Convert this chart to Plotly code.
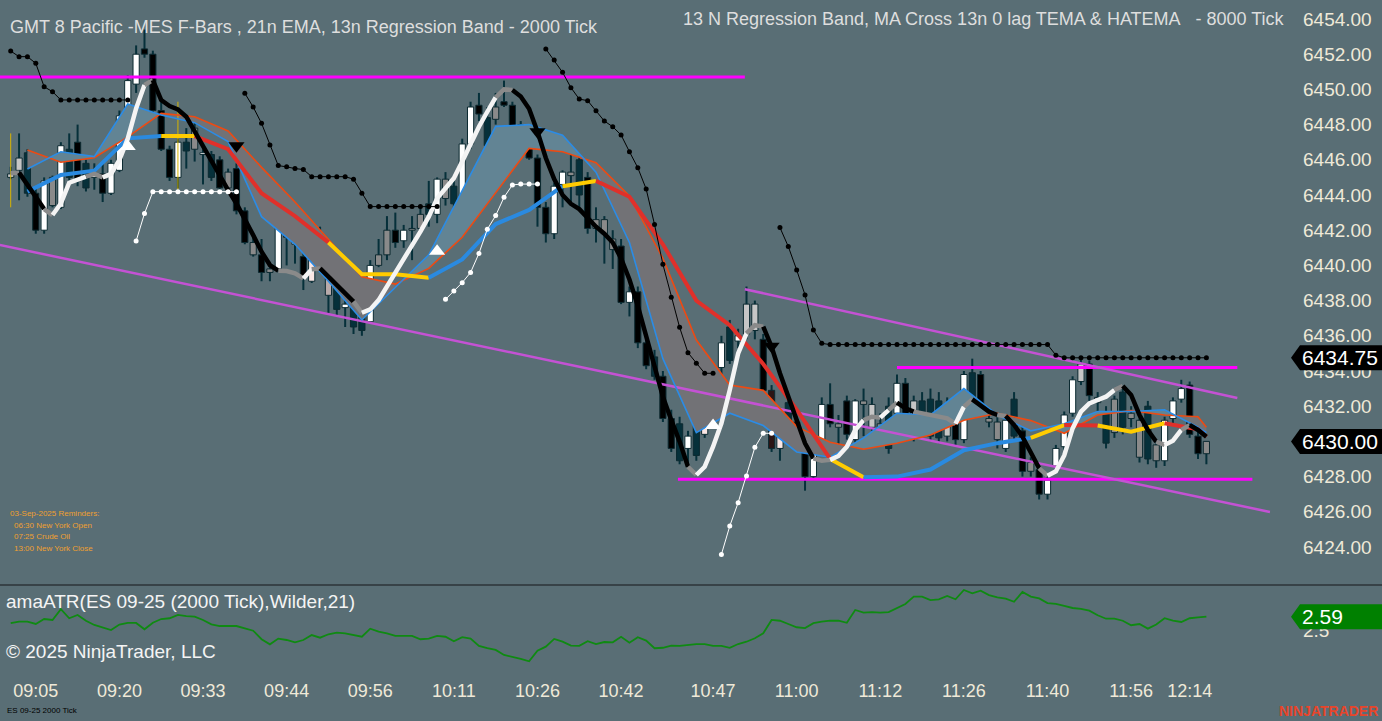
import plotly.graph_objects as go

# ---- 2000 tick bars (ES 09-25, 03-Sep-2025) ----
bar_open = [
    6445.2, 6446.1, 6446.4, 6444.1, 6442.0, 6445.0, 6443.3, 6446.6, 6447.0, 6445.8,
    6445.0, 6445.2, 6444.1, 6445.4, 6448.6, 6450.3, 6452.3, 6452.0, 6448.8, 6446.6,
    6445.0, 6447.0, 6447.8, 6446.3, 6446.3, 6446.0, 6445.3, 6445.5, 6443.1, 6441.3,
    6440.6, 6439.8, 6439.8, 6442.3, 6441.2, 6440.5, 6439.1, 6441.8, 6440.3, 6439.5,
    6437.6, 6438.4, 6437.6, 6436.8, 6440.0, 6440.6, 6442.0, 6441.4, 6442.0, 6442.1,
    6443.5, 6442.9, 6444.9, 6444.5, 6443.9, 6446.9, 6449.1, 6448.4, 6448.3, 6449.3,
    6449.1, 6447.8, 6447.6, 6446.1, 6443.3, 6441.8, 6444.6, 6445.3, 6446.0, 6445.0,
    6442.6, 6442.6, 6441.5, 6441.1, 6437.9, 6438.5, 6435.6, 6434.8, 6433.7, 6431.3,
    6431.0, 6429.6, 6431.0, 6430.4, 6432.8, 6434.2, 6436.5, 6435.7, 6436.1, 6437.8,
    6435.8, 6432.9, 6429.6, 6432.2, 6431.1, 6430.4, 6428.0, 6430.1, 6432.1, 6431.0,
    6432.3, 6430.1, 6432.3, 6432.1, 6431.0, 6432.0, 6431.6, 6433.3, 6430.3, 6432.3,
    6432.4, 6432.3, 6430.3, 6432.1, 6430.1, 6433.9, 6433.8, 6431.3, 6431.1, 6429.6,
    6432.4, 6430.6, 6428.8, 6428.4, 6427.0, 6428.6, 6429.7, 6431.6, 6433.4, 6434.4,
    6432.5, 6431.7, 6430.5, 6432.8, 6431.6, 6431.2, 6432.0, 6429.8, 6428.9, 6431.3,
    6432.4, 6433.2, 6430.3, 6429.3]
bar_high = [
    6445.6, 6447.5, 6446.6, 6444.5, 6445.0, 6445.1, 6447.0, 6447.5, 6448.0, 6446.0,
    6445.8, 6445.8, 6446.0, 6448.8, 6450.8, 6452.5, 6453.4, 6452.2, 6449.5, 6446.8,
    6447.2, 6447.8, 6448.1, 6446.6, 6446.5, 6446.2, 6445.5, 6445.8, 6443.3, 6441.8,
    6441.5, 6440.2, 6443.2, 6442.5, 6442.3, 6441.1, 6442.0, 6442.2, 6440.5, 6440.1,
    6438.5, 6438.8, 6438.2, 6440.3, 6441.5, 6442.8, 6443.0, 6442.3, 6442.8, 6443.4,
    6444.8, 6445.0, 6445.3, 6445.1, 6447.2, 6449.3, 6449.8, 6449.0, 6449.8, 6450.5,
    6449.3, 6448.2, 6448.0, 6446.3, 6443.6, 6444.7, 6445.4, 6446.3, 6446.3, 6445.3,
    6443.3, 6442.8, 6442.0, 6441.5, 6438.8, 6438.8, 6436.0, 6435.2, 6434.0, 6431.8,
    6431.4, 6430.6, 6431.3, 6432.9, 6434.3, 6436.0, 6436.9, 6436.4, 6438.8, 6438.0,
    6436.1, 6433.2, 6431.5, 6432.6, 6431.4, 6430.6, 6430.3, 6432.5, 6433.3, 6431.5,
    6432.6, 6432.4, 6433.0, 6432.5, 6431.6, 6432.5, 6433.8, 6433.6, 6432.6, 6432.8,
    6433.0, 6432.8, 6432.5, 6432.4, 6434.0, 6434.7, 6434.0, 6431.6, 6431.4, 6431.5,
    6432.8, 6430.9, 6429.1, 6428.7, 6428.0, 6429.8, 6431.7, 6433.7, 6434.7, 6434.6,
    6432.8, 6432.0, 6432.6, 6433.1, 6432.0, 6431.5, 6432.3, 6430.1, 6431.4, 6432.5,
    6433.5, 6433.4, 6431.4, 6430.0]
bar_low = [
    6444.9, 6443.7, 6443.9, 6441.8, 6441.8, 6443.3, 6443.2, 6444.8, 6444.5, 6444.2,
    6444.3, 6443.6, 6444.0, 6445.3, 6448.4, 6449.8, 6451.8, 6448.6, 6446.5, 6444.8,
    6444.4, 6445.5, 6445.9, 6444.6, 6444.8, 6444.2, 6444.2, 6442.9, 6441.2, 6440.5,
    6439.1, 6439.1, 6439.6, 6440.0, 6440.1, 6438.6, 6439.0, 6440.0, 6437.3, 6437.1,
    6436.5, 6436.1, 6436.0, 6436.8, 6439.9, 6440.3, 6441.0, 6441.0, 6440.3, 6441.8,
    6442.2, 6442.4, 6443.4, 6442.7, 6443.9, 6446.6, 6448.2, 6446.6, 6448.0, 6449.0,
    6447.4, 6446.8, 6446.0, 6442.2, 6441.3, 6441.5, 6443.3, 6443.4, 6443.3, 6441.8,
    6441.3, 6440.1, 6439.8, 6437.8, 6437.1, 6435.3, 6434.1, 6433.5, 6431.1, 6429.4,
    6428.7, 6428.5, 6428.9, 6430.2, 6432.1, 6433.8, 6434.4, 6435.3, 6435.8, 6435.8,
    6432.7, 6429.4, 6428.9, 6430.3, 6430.2, 6427.2, 6427.8, 6430.0, 6430.8, 6429.5,
    6430.1, 6429.9, 6430.3, 6430.6, 6429.8, 6429.3, 6431.4, 6431.0, 6430.0, 6430.5,
    6430.0, 6429.9, 6430.0, 6429.8, 6429.9, 6431.8, 6431.6, 6430.8, 6429.6, 6429.4,
    6430.0, 6428.0, 6428.0, 6426.7, 6426.7, 6428.4, 6429.5, 6431.4, 6433.2, 6432.3,
    6431.6, 6429.6, 6430.2, 6430.4, 6430.8, 6428.8, 6428.7, 6428.5, 6428.6, 6431.0,
    6432.2, 6430.2, 6429.0, 6428.7]
bar_close = [
    6445.0, 6445.4, 6444.1, 6442.0, 6444.8, 6443.4, 6446.8, 6445.0, 6444.8, 6444.4,
    6445.2, 6444.1, 6445.8, 6448.5, 6450.5, 6452.0, 6452.0, 6448.8, 6446.6, 6445.0,
    6447.0, 6446.5, 6446.6, 6446.4, 6445.0, 6444.4, 6444.4, 6443.1, 6441.3, 6440.6,
    6439.6, 6439.6, 6442.9, 6441.6, 6441.8, 6439.4, 6441.8, 6440.3, 6438.3, 6437.5,
    6437.8, 6436.5, 6436.3, 6440.0, 6440.6, 6442.0, 6441.3, 6442.0, 6442.1, 6442.9,
    6442.9, 6444.9, 6443.8, 6443.5, 6446.9, 6449.0, 6448.6, 6446.8, 6449.0, 6449.1,
    6447.8, 6448.0, 6446.1, 6443.3, 6441.8, 6444.5, 6445.3, 6445.1, 6444.0, 6442.1,
    6442.1, 6441.8, 6440.9, 6437.9, 6438.5, 6435.6, 6434.3, 6433.7, 6431.3, 6429.6,
    6428.9, 6430.3, 6429.2, 6432.7, 6434.1, 6435.6, 6434.6, 6436.0, 6437.8, 6436.3,
    6432.9, 6429.6, 6431.3, 6430.6, 6430.4, 6428.0, 6430.1, 6432.1, 6431.0, 6430.8,
    6430.4, 6432.3, 6432.1, 6430.8, 6430.1, 6429.6, 6433.3, 6431.3, 6432.3, 6430.8,
    6430.3, 6430.2, 6432.1, 6430.1, 6433.8, 6432.0, 6431.9, 6431.1, 6430.1, 6431.2,
    6430.3, 6428.3, 6428.3, 6427.0, 6427.8, 6429.6, 6431.5, 6433.5, 6434.4, 6432.6,
    6432.2, 6429.9, 6432.4, 6430.8, 6431.3, 6429.1, 6429.0, 6428.9, 6431.2, 6432.3,
    6433.0, 6430.4, 6429.3, 6430.0]
# F-Bars body shade: w white, b black, g gray, l light gray, p pink, r dark red, m rose gray, t teal
bar_shade = (
    "l l t b w g w t b t  w b w w w w b b b b  w t g w t b g b b g  b g w r p b p r m t "
    "w t t w g g b w g g  t w g t w w b t g b  b w b b b w w g t b  g g g b w b b t b b "
    "t w t p p w t w l l  b r p t r b w w b g  b w g l g t w b l t  t t l b w t b g g w "
    "t b g b w w w w l b  g t g t g g t g w w  w b b g").split()

# 0 lag TEMA / HATEMA (per 2000 tick bar)
tema = [
    6445.23, 6445.27, 6444.56, 6443.9, 6443.2, 6442.86, 6443.52, 6444.7, 6444.85, 6445.04,
    6445.2, 6445.0, 6445.2, 6445.99, 6447.2, 6448.92, 6450.25, 6450.53, 6449.39, 6449.05,
    6448.86, 6448.45, 6447.6, 6446.74, 6445.89, 6445.04, 6444.28, 6443.52, 6442.67, 6441.72,
    6440.78, 6440.02, 6439.7, 6439.68, 6439.55, 6439.26, 6439.78, 6439.83, 6439.36, 6438.94,
    6438.5, 6437.94, 6437.31, 6437.5, 6438.03, 6438.79, 6439.55, 6440.31, 6441.06, 6441.92,
    6442.77, 6443.81, 6444.38, 6444.95, 6445.9, 6446.94, 6447.88, 6448.73, 6449.55, 6450.0,
    6449.97, 6449.6, 6448.9, 6447.6, 6446.1, 6444.9, 6444.0, 6443.5, 6443.2, 6442.7,
    6442.2, 6441.8, 6441.3, 6440.4, 6439.2, 6437.7, 6436.0, 6434.2, 6432.54, 6431.22,
    6429.99, 6428.56, 6428.09, 6428.56, 6429.7, 6431.03, 6432.92, 6435.0, 6436.14, 6436.6,
    6436.52, 6435.38, 6433.87, 6432.54, 6431.3, 6429.89, 6429.04, 6428.9, 6428.95, 6429.17,
    6429.7, 6430.65, 6431.21, 6431.4, 6431.35, 6431.78, 6432.2, 6431.88, 6431.69, 6431.59,
    6431.5, 6431.4, 6431.31, 6431.0, 6431.97, 6432.39, 6432.07, 6431.69, 6431.5, 6431.44,
    6430.93, 6430.27, 6429.41, 6428.47, 6428.05, 6428.3, 6429.2, 6430.74, 6431.69, 6432.16,
    6432.35, 6432.54, 6432.92, 6433.15, 6432.64, 6431.5, 6430.65, 6429.98, 6429.8, 6430.04,
    6430.65, 6430.93, 6430.65, 6430.27]

# trailing stop dots
stop_above = ([6452.18, 6451.86, 6451.86, 6451.48, 6450.15, 6449.87] + [6449.4] * 9 + [None] * 13
              + [6449.78, 6449.0, 6448.07, 6446.84, 6445.67, 6445.6, 6445.5, 6445.45]
              + [6445.04] * 5 + [6444.9, 6444.1] + [6443.34] * 9 + [None] * 12
              + [6452.3, 6451.67, 6450.97, 6450.1, 6449.45, 6449.36, 6448.79, 6448.2, 6447.88,
                 6447.41, 6446.46, 6445.55, 6444.34, 6442.33, 6440.06, 6438.19, 6436.48,
                 6435.04, 6434.44, 6433.87, 6433.87] + [None] * 7
              + [6442.15, 6441.07, 6439.74, 6438.32, 6436.33, 6435.57] + [6435.5] * 27
              + [6434.9] + [6434.75] * 18)
stop_below = ([None] * 15 + [6441.38, 6442.95] + [6444.19] * 11 + [None] * 24
              + [6438.07, 6438.54, 6439.02, 6439.6, 6440.68, 6442.05, 6442.83, 6443.87,
                 6444.57, 6444.62, 6444.62, 6444.62] + [None] * 21
              + [6423.58, 6425.19, 6426.52, 6428.03, 6429.66, 6430.46, 6430.46] + [None] * 52)

# 8000 tick series: regression band (blue / red) and 21n EMA
slow_bars = [2, 6, 10, 14, 18, 22, 26, 30, 34, 38, 42, 46, 50, 54, 58, 62, 66, 70, 74,
             78, 82, 86, 90, 94, 98, 102, 106, 110, 114, 118, 122, 126, 130, 134, 138, 142, 143]
band_blue = [6445.48, 6446.46, 6446.18, 6449.17, 6448.55, 6448.11, 6447.03, 6442.77, 6441.2,
             6439.1, 6436.9, 6438.75, 6440.6, 6444.25, 6447.9, 6448.0, 6447.4, 6445.3, 6441.3,
             6434.7, 6430.5, 6431.6, 6430.9, 6429.4, 6429.1, 6430.2, 6431.6, 6431.5, 6433.0,
             6431.5, 6430.6, 6431.0, 6431.7, 6431.7, 6431.8, 6430.8, 6430.5]
band_red = [6446.56, 6445.86, 6446.12, 6447.3, 6448.64, 6448.45, 6447.64, 6445.57, 6443.6,
            6441.45, 6439.36, 6438.94, 6439.83, 6441.6, 6444.1, 6446.65, 6446.46, 6445.84,
            6443.95, 6440.4, 6435.76, 6433.2, 6432.9, 6430.84, 6429.95, 6429.55, 6429.89,
            6430.36, 6431.2, 6431.6, 6431.18, 6430.46, 6431.5, 6431.75, 6431.5, 6431.4, 6430.8]
ema21 = [6444.19, 6445.14, 6445.38, 6447.22, 6447.35, 6447.35, 6446.6, 6444.1, 6442.8,
         6441.3, 6439.5, 6439.5, 6439.3, 6440.34, 6442.35, 6443.15, 6444.5, 6444.8, 6443.9,
         6441.2, 6438.0, 6436.6, 6434.4, 6431.8, 6429.0, 6427.96, 6428.0, 6428.4, 6429.5,
         6429.9, 6430.2, 6430.93, 6430.9, 6430.55, 6431.03, 6430.69, 6430.27]
ema21_state = "b b b b y r r r r y y y b b b b y r r r r r r r y b b b b b y r y y r r".split()

# MA cross markers
cross_up_bars = [14, 51, 84]
cross_up_price = [6446.75, 6440.8, 6430.9]
cross_dn_bars = [27, 63, 91]
cross_dn_price = [6446.8, 6447.6, 6435.4]

# drawn levels
level_price = [6450.7, 6434.2, 6427.85]
level_from = [-1.3, 106, 79.8]
level_to = [87.8, 146.7, 148.5]
channel_from = [(-1.3, 6441.16), (87.8, 6438.65)]
channel_to = [(150.6, 6425.99), (146.7, 6432.47)]
flag_bars = [0, 20]
flag_hi = [6447.5, 6449.3]
flag_lo = [6443.3, 6444.3]

# amaATR (Wilder, 21)
atr = [
    2.548, 2.558, 2.558, 2.543, 2.575, 2.569, 2.638, 2.58, 2.601, 2.564,
    2.537, 2.522, 2.504, 2.539, 2.55, 2.55, 2.509, 2.551, 2.575, 2.58,
    2.601, 2.594, 2.59, 2.569, 2.541, 2.53, 2.53, 2.53, 2.515, 2.5,
    2.445, 2.412, 2.449, 2.44, 2.425, 2.44, 2.472, 2.455, 2.477, 2.487,
    2.483, 2.472, 2.461, 2.513, 2.494, 2.483, 2.466, 2.466, 2.466, 2.445,
    2.449, 2.466, 2.461, 2.432, 2.458, 2.449, 2.402, 2.387, 2.376, 2.344,
    2.333, 2.318, 2.303, 2.371, 2.397, 2.447, 2.429, 2.404, 2.402, 2.432,
    2.414, 2.427, 2.425, 2.461, 2.423, 2.458, 2.436, 2.387, 2.39, 2.404,
    2.402, 2.408, 2.414, 2.414, 2.402, 2.402, 2.389, 2.414, 2.429, 2.451,
    2.483, 2.569, 2.564, 2.543, 2.522, 2.517, 2.548, 2.558, 2.564, 2.564,
    2.551, 2.633, 2.616, 2.62, 2.616, 2.62, 2.644, 2.672, 2.719, 2.719,
    2.697, 2.702, 2.723, 2.702, 2.762, 2.74, 2.757, 2.729, 2.715, 2.706,
    2.686, 2.749, 2.719, 2.708, 2.678, 2.672, 2.659, 2.646, 2.641, 2.629,
    2.599, 2.577, 2.577, 2.564, 2.535, 2.543, 2.513, 2.54, 2.58, 2.564,
    2.556, 2.58, 2.585, 2.59]

time_bars = [3, 13, 23, 33, 43, 53, 63, 73, 84, 94, 104, 114, 124, 134, 141]
time_labels = ['09:05', '09:20', '09:33', '09:44', '09:56', '10:11', '10:26', '10:42',
               '10:47', '11:00', '11:12', '11:26', '11:40', '11:56', '12:14']
price_ticks = [6424.0, 6426.0, 6428.0, 6430.0, 6432.0, 6434.0, 6436.0, 6438.0,
               6440.0, 6442.0, 6444.0, 6446.0, 6448.0, 6450.0, 6452.0, 6454.0]
stop_level = 6434.75
last_price = 6430.00
last_atr = 2.59

BG = '#596e75'
TXT = '#efe9d8'
FONT = 'Arial, Liberation Sans, sans-serif'
SHADES = {'w': '#ffffff', 'b': '#000000', 'g': '#8a8a8a', 'l': '#c6c6c6', 'p': '#fbe7e5',
          'r': '#2b1515', 'm': '#b9aaaa', 't': '#06303a'}
EMA_COL = {'b': '#2a8ae0', 'y': '#ffcc00', 'r': '#e0302a'}
W, H, MR, MB = 1382, 721, 92, 49
PW, PH = W - MR, H - MB
SPLIT = (PH - 585) / PH


def xp(px):
    return px / PW


def yp(py):
    return 1 - py / PH


def add_segments(fig, xs, ys, colors, width):
    start = 0
    for k in range(1, len(colors) + 1):
        if k == len(colors) or colors[k] != colors[start]:
            fig.add_trace(go.Scatter(x=xs[start:k + 1], y=ys[start:k + 1], mode='lines',
                                     line=dict(color=colors[start], width=width)))
            start = k


def band_fills(fig, xs, a, b, up_col, dn_col):
    pts = []
    for k in range(len(xs)):
        pts.append((xs[k], a[k], b[k]))
        if k < len(xs) - 1:
            d0, d1 = a[k] - b[k], a[k + 1] - b[k + 1]
            if d0 * d1 < 0:
                t = d0 / (d0 - d1)
                yc = a[k] + t * (a[k + 1] - a[k])
                pts.append((xs[k] + t * (xs[k + 1] - xs[k]), yc, yc))
    run = [pts[0]]
    sign = None
    for k in range(1, len(pts)):
        s = (pts[k - 1][1] - pts[k - 1][2]) + (pts[k][1] - pts[k][2]) > 0
        if sign is not None and s != sign:
            draw_poly(fig, run, up_col if sign else dn_col)
            run = [pts[k - 1]]
        run.append(pts[k])
        sign = s
    draw_poly(fig, run, up_col if sign else dn_col)


def draw_poly(fig, run, col):
    xs = [p[0] for p in run] + [p[0] for p in reversed(run)]
    ys = [p[1] for p in run] + [p[2] for p in reversed(run)]
    fig.add_trace(go.Scatter(x=xs, y=ys, mode='lines', fill='toself', fillcolor=col,
                             line=dict(width=0)))


bars = list(range(len(bar_open)))
fig = go.Figure()

# regression band fill
band_fills(fig, slow_bars, band_blue, band_red, '#628494', '#727276')

# candles
fig.add_trace(go.Bar(x=bars, base=bar_low, y=[h - l for h, l in zip(bar_high, bar_low)],
                     width=0.24, marker=dict(color='#06303a', line=dict(width=0))))
fig.add_trace(go.Scatter(x=[v for b in flag_bars for v in (b, b, None)],
                         y=[v for h, l in zip(flag_hi, flag_lo) for v in (h, l, None)],
                         mode='lines', line=dict(color='#d8b400', width=1)))
fig.add_trace(go.Bar(x=bars, base=[min(o, c) for o, c in zip(bar_open, bar_close)],
                     y=[max(abs(c - o), 0.08) for o, c in zip(bar_open, bar_close)],
                     width=0.74, marker=dict(color=[SHADES[s] for s in bar_shade],
                                             line=dict(color='#0c2a31', width=1))))

# drawn levels and channel
for p, a, b in zip(level_price, level_from, level_to):
    fig.add_trace(go.Scatter(x=[a, b], y=[p, p], mode='lines', line=dict(color='#ff00ff', width=3)))
for (x0, y0), (x1, y1) in zip(channel_from, channel_to):
    fig.add_trace(go.Scatter(x=[x0, x1], y=[y0, y1], mode='lines', line=dict(color='#c452d4', width=2.5)))

# regression band edges
fig.add_trace(go.Scatter(x=slow_bars, y=band_red, mode='lines', line=dict(color='#ee4a12', width=1.6)))
fig.add_trace(go.Scatter(x=slow_bars, y=band_blue, mode='lines', line=dict(color='#2b8ce6', width=1.6)))

# 21n EMA state line
add_segments(fig, slow_bars, ema21, [EMA_COL[s] for s in ema21_state], 4)

# HATEMA colouring: white rising, black falling, gray at turns / flat
tema_cols = []
for k in range(len(tema) - 1):
    d = tema[k + 1] - tema[k]
    nxt = tema[k + 2] - tema[k + 1] if k + 2 < len(tema) else d
    if abs(d) < 0.15 or d * nxt < 0:
        tema_cols.append('#8a8a8a')
    else:
        tema_cols.append('#f4f4f4' if d > 0 else '#000000')
add_segments(fig, bars, tema, tema_cols, 4.5)

# stop dots
fig.add_trace(go.Scatter(x=bars, y=stop_above, mode='lines+markers', connectgaps=False,
                         line=dict(color='#000000', width=1), marker=dict(color='#000000', size=5)))
fig.add_trace(go.Scatter(x=bars, y=stop_below, mode='lines+markers', connectgaps=False,
                         line=dict(color='#ffffff', width=1), marker=dict(color='#ffffff', size=5)))

# cross markers
fig.add_trace(go.Scatter(x=cross_up_bars, y=cross_up_price, mode='markers',
                         marker=dict(symbol='triangle-up', size=14, color='#ffffff')))
fig.add_trace(go.Scatter(x=cross_dn_bars, y=cross_dn_price, mode='markers',
                         marker=dict(symbol='triangle-down', size=14, color='#000000')))

# ATR panel
fig.add_trace(go.Scatter(x=bars, y=atr, yaxis='y2', mode='lines', line=dict(color='#0f8a12', width=1.8)))

price_px = 585 / (6455.08 - 6421.84)
atr_px = (PH - 585) / (2.794 - 2.234)


def tag(val, yref, per_unit, color, text):
    d = 12.5 / per_unit
    path = (f"M {xp(PW + 1)},{val} L {xp(PW + 10)},{val + d} L {xp(W)},{val + d} "
            f"L {xp(W)},{val - d} L {xp(PW + 10)},{val - d} Z")
    fig.add_shape(type='path', path=path, xref='paper', yref=yref, fillcolor=color,
                  line=dict(width=0), layer='above')
    fig.add_annotation(x=xp(PW + 10), y=val, xref='paper', yref=yref, text=text, showarrow=False,
                       xanchor='left', font=dict(size=21, color='#ffffff', family=FONT))


tag(stop_level, 'y', price_px, '#000000', f'{stop_level:.2f}')
tag(last_price, 'y', price_px, '#000000', f'{last_price:.2f}')
tag(last_atr, 'y2', atr_px, '#008000', f'{last_atr:.2f}')

fig.add_shape(type='line', xref='paper', yref='paper', x0=0, x1=xp(W), y0=SPLIT, y1=SPLIT,
              line=dict(color='#2d3538', width=1.5))

NARROW = 'Liberation Sans Narrow, Arial Narrow, Arial, sans-serif'
texts = [
    (8, 27, 'GMT 8 Pacific -MES F-Bars , 21n EMA, 13n Regression Band - 2000 Tick', 18, '#dedede', 'left', FONT),
    (1287, 19, '13 N Regression Band, MA Cross 13n 0 lag TEMA &amp; HATEMA\u00a0\u00a0\u00a0- 8000 Tick', 18, '#dedede', 'right', FONT),
    (8, 513, '03-Sep-2025 Reminders:', 8, '#f0a030', 'left', NARROW),
    (12, 525, '06:30 New York Open', 8, '#f0a030', 'left', NARROW),
    (12, 536, '07:25 Crude Oil', 8, '#f0a030', 'left', NARROW),
    (12, 548, '13:00 New York Close', 8, '#f0a030', 'left', NARROW),
    (4, 601, 'amaATR(ES 09-25 (2000 Tick),Wilder,21)', 19, '#f4f4f4', 'left', FONT),
    (4, 651, '\u00a9 2025 NinjaTrader, LLC', 19, '#f4f4f4', 'left', FONT),
    (5, 711, 'ES 09-25 2000 Tick', 8, '#000000', 'left', FONT),
    (1380, 711, '<b>NINJATRADER</b>', 14, '#e8452a', 'right', FONT),
]
for x, y, t, size, col, anchor, fam in texts:
    fig.add_annotation(x=xp(x), y=yp(y), xref='paper', yref='paper', text=t, showarrow=False,
                       xanchor=anchor, yanchor='middle', font=dict(size=size, color=col, family=fam))

# the last-price tag sits on top of its own tick, so that tick is left blank
price_text = ['' if v == last_price else f'{v:.2f}' for v in price_ticks]

fig.update_layout(
    width=W, height=H, margin=dict(l=0, r=MR, t=0, b=MB),
    paper_bgcolor=BG, plot_bgcolor=BG, showlegend=False, barmode='overlay', hovermode=False,
    font=dict(family=FONT, color=TXT),
    xaxis=dict(domain=[0, 1], range=[-1.28, 153.0], anchor='y2', tickvals=time_bars, ticktext=time_labels,
               showgrid=False, zeroline=False, showline=False, ticks='', ticklabelstandoff=6,
               tickfont=dict(size=18, color=TXT)),
    yaxis=dict(domain=[SPLIT, 1], range=[6421.84, 6455.08], side='right', anchor='x',
               tickvals=price_ticks, ticktext=price_text, showgrid=False, zeroline=False, ticks='',
               ticklabelstandoff=12, tickfont=dict(size=19, color=TXT)),
    yaxis2=dict(domain=[0, SPLIT], range=[2.234, 2.794], side='right', anchor='x',
                tickvals=[2.5], ticktext=['2.5'], showgrid=False, zeroline=False, ticks='',
                ticklabelstandoff=12, tickfont=dict(size=19, color=TXT)),
)

fig.write_html('out.html', config={'displayModeBar': False},
               post_script="document.body.style.margin='0px';document.body.style.overflow='hidden';")
